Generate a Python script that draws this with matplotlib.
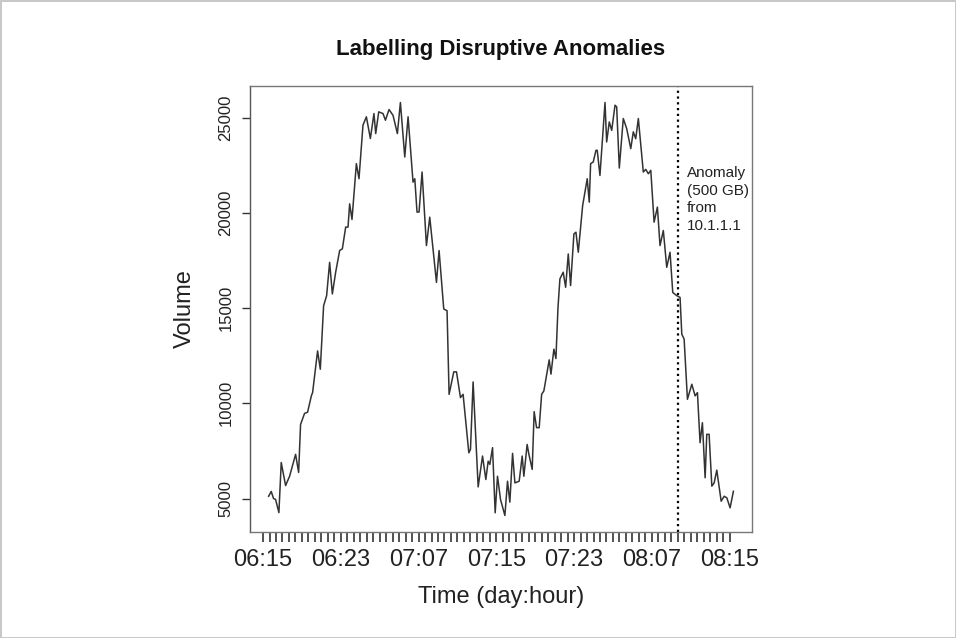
import matplotlib
matplotlib.use("Agg")
import matplotlib.pyplot as plt
import numpy as np

# Time in hours after 06:15 (day:hour)
hours = [0.57, 0.84, 1.08, 1.29, 1.63, 1.87, 2.32, 2.73, 3.35, 3.66,
         3.86, 4.27, 4.58, 4.97, 5.10, 5.61, 5.89, 6.23, 6.54, 6.85,
         7.13, 7.47, 7.88, 8.16, 8.50, 8.74, 8.91, 9.15, 9.60, 9.87,
         10.28, 10.63, 11.04, 11.41, 11.59, 11.90, 12.34, 12.59, 12.96, 13.37,
         13.82, 14.13, 14.58, 14.92, 15.43, 15.61, 15.84, 16.05, 16.36, 16.81,
         17.15, 17.84, 18.11, 18.59, 18.93, 19.14, 19.62, 19.90, 20.31, 20.58,
         21.17, 21.34, 21.61, 22.13, 22.58, 22.92, 23.16, 23.33, 23.61, 23.88,
         24.12, 24.43, 24.88, 25.15, 25.39, 25.67, 25.91, 26.35, 26.66, 26.83,
         27.17, 27.35, 27.69, 27.89, 28.14, 28.41, 28.66, 28.89, 29.44, 29.62,
         29.92, 30.13, 30.34, 30.54, 30.88, 31.13, 31.40, 31.64, 31.98, 32.19,
         32.43, 32.88, 33.35, 33.56, 33.70, 33.97, 34.25, 34.38, 34.66, 35.18,
         35.35, 35.62, 35.87, 36.21, 36.38, 36.65, 37.06, 37.41, 37.83, 38.09,
         38.34, 38.61, 39.12, 39.37, 39.64, 39.89, 40.23, 40.57, 40.84, 41.18,
         41.53, 41.87, 42.15, 42.56, 42.90, 43.08, 43.32, 43.66, 44.11, 44.45,
         44.69, 44.96, 45.20, 45.48, 45.65, 45.89, 46.17, 46.41, 46.68, 47.13,
         47.44, 47.71, 48.05, 48.39]

volume = [5120, 5370, 5000, 4950, 4260, 6890, 5680, 6170, 7320, 6370,
          8890, 9470, 9530, 10390, 10570, 12750, 11790, 15120, 15650, 17400,
          15740, 16880, 18020, 18110, 19250, 19250, 20470, 19650, 22580, 21790,
          24600, 25040, 23900, 25210, 24160, 25300, 25210, 24860, 25420, 25120,
          24160, 25790, 22930, 25040, 21610, 21790, 20040, 20040, 22140, 18280,
          19770, 16350, 18020, 14950, 14860, 10470, 11650, 11650, 10300, 10470,
          7400, 7580, 11120, 5610, 7230, 6000, 6960, 6790, 7670, 4250,
          6170, 4950, 4110, 5910, 4810, 7370, 5820, 5910, 7230, 6170,
          7840, 7320, 6530, 9560, 8720, 8720, 10470, 10650, 12280, 11530,
          12840, 12350, 15000, 16530, 16880, 16090, 17840, 16180, 18890, 18980,
          17930, 20380, 21790, 20560, 22580, 22670, 23280, 23280, 21960, 25790,
          23720, 24770, 24330, 25650, 25560, 22350, 24950, 24420, 23370, 24250,
          23890, 24950, 22140, 22280, 22050, 22230, 19510, 20300, 18280, 19070,
          17140, 17930, 15820, 15650, 15560, 13630, 13370, 10210, 11000, 10390,
          10560, 7930, 8980, 6090, 8370, 8370, 5650, 5820, 6490, 4860,
          5120, 5040, 4510, 5380]

tick_labels = ["06:15", "06:23", "07:07", "07:15", "07:23", "08:07", "08:15"]
label_step_hours = 8
minor_step_hours = 2.0 / 3.0
y_ticks = [5000, 10000, 15000, 20000, 25000]

anomaly_time = 42.70
anomaly_text = "Anomaly\n(500 GB)\nfrom\n10.1.1.1"

plt.rcParams['font.family'] = ['Liberation Sans', 'DejaVu Sans']

fig = plt.figure(figsize=(9.56, 6.38), dpi=100)
fig.patch.set_facecolor('white')
fig.patch.set_edgecolor('#c8c8c8')
fig.patch.set_linewidth(1.0)

ax = fig.add_axes([250/956, 1 - 532/638, 502/956, 446/638])

x = np.array(hours)
y = np.array(volume)
ax.plot(x, y, color='#333333', lw=1.1)

# R-style 4% axis expansion
xr = x.max() - x.min()
yr = y.max() - y.min()
ax.set_xlim(x.min() - 0.04 * xr, x.max() + 0.04 * xr)
ax.set_ylim(y.min() - 0.04 * yr, y.max() + 0.04 * yr)

ax.axvline(anomaly_time, color='black', lw=1.6, ls=(0, (1, 1.6)))
ax.text(anomaly_time + 0.9, 22450, anomaly_text, ha='left', va='top',
        fontsize=11, linespacing=1.32, color='#222222')

major_pos = [i * label_step_hours for i in range(len(tick_labels))]
ax.set_xticks(major_pos)
ax.set_xticklabels(tick_labels, fontsize=17, color='#222222')
n_minor = int(round(major_pos[-1] / minor_step_hours)) + 1
ax.set_xticks([i * minor_step_hours for i in range(n_minor)], minor=True)
ax.tick_params(axis='x', which='both', length=7, width=1.1, color='#222222',
               direction='out', pad=5)

ax.set_yticks(y_ticks)
ax.set_yticklabels([str(v) for v in y_ticks], fontsize=12, color='#222222',
                   rotation=90, va='center')
ax.tick_params(axis='y', length=6, width=1.0, color='#333333', pad=6)

for s in ax.spines.values():
    s.set_color('#777777')
    s.set_linewidth(1.0)
ax.spines['left'].set_color('#555555')

ax.set_xlabel("Time (day:hour)", fontsize=17, color='#222222')
ax.xaxis.set_label_coords(0.5, -0.122)
ax.set_ylabel("Volume", fontsize=17, color='#222222')
ax.yaxis.set_label_coords(-0.13, 0.5)
ax.yaxis.label.set_va('center')

ax.set_title("Labelling Disruptive Anomalies", fontsize=16, fontweight='bold',
             color='#111111', pad=22)

fig.savefig("out.png", dpi=100, facecolor=fig.get_facecolor(),
            edgecolor=fig.get_edgecolor())
